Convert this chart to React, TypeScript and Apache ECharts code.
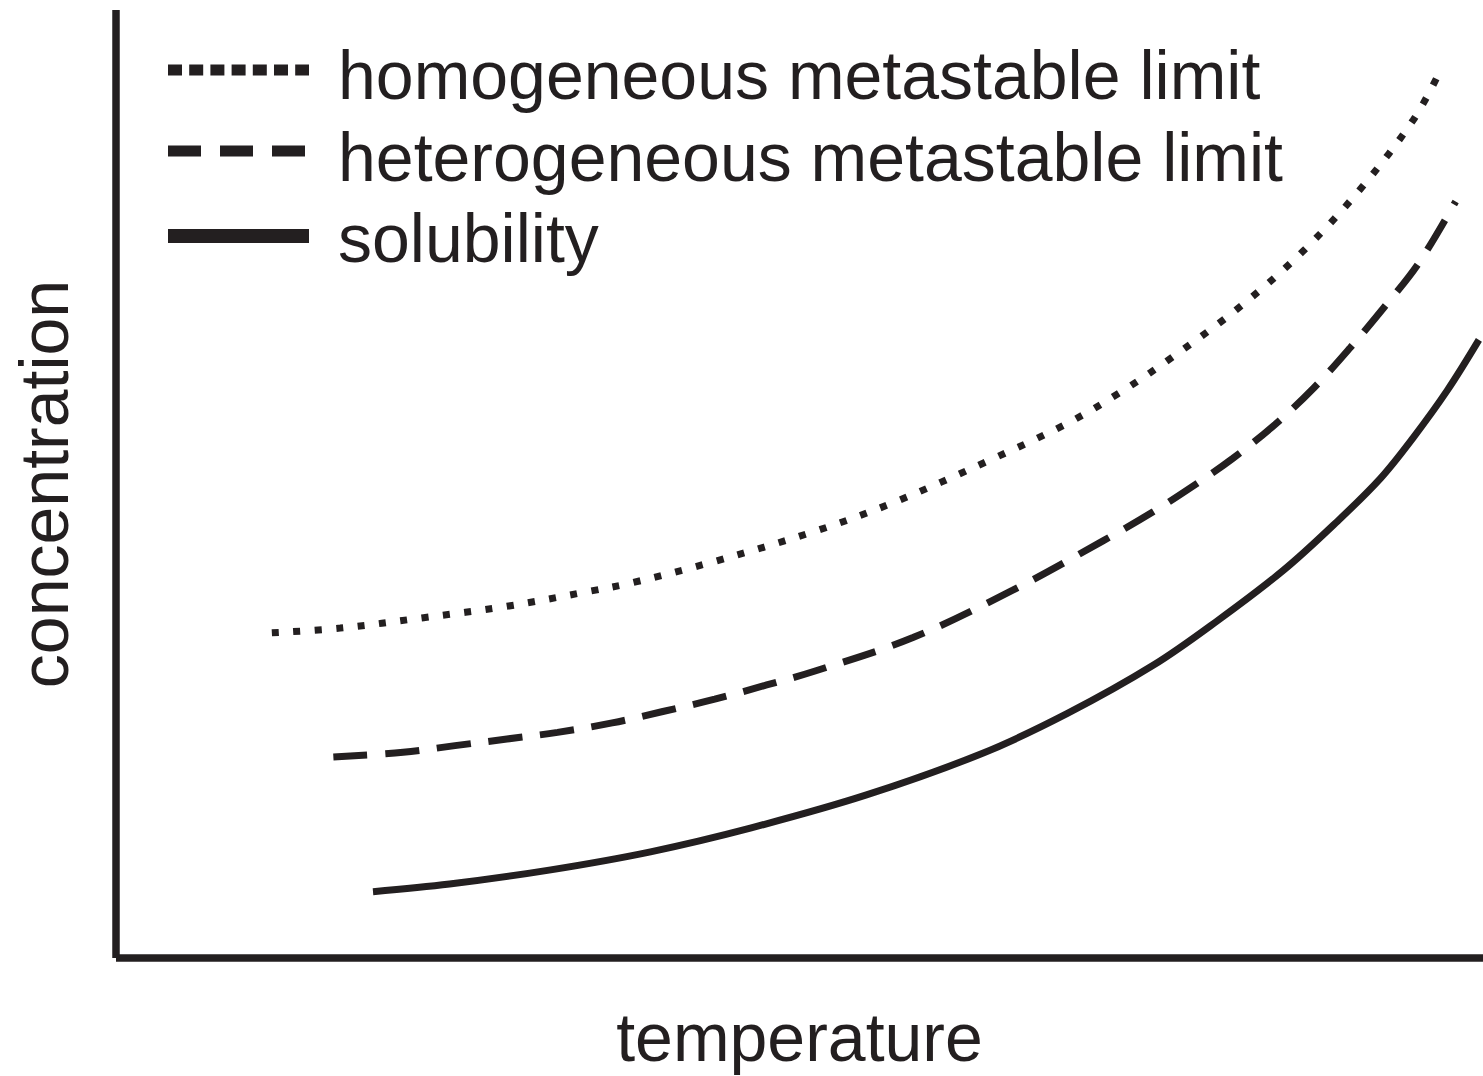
import React, { useEffect, useRef } from "react";
import * as echarts from "echarts";

const INK = "#231f20";
const FONT = "'Liberation Sans', Arial, sans-serif";

const xAxisTitle = "temperature";
const yAxisTitle = "concentration";

const seriesNames = [
  "homogeneous metastable limit",
  "heterogeneous metastable limit",
  "solubility",
];

// temperature (0–100, schematic units)
const homogeneousX = [11.4, 16.4, 22.5, 28.6, 34.7, 37.8, 43.7, 51.1, 56.8, 63.9, 69.6, 73.5, 77.3, 82.4, 87.0, 91.2, 94.9, 96.6];
// concentration (0–100, schematic units)
const homogeneousY = [34.3, 34.8, 35.9, 37.1, 38.7, 39.6, 41.8, 45.0, 48.0, 52.5, 56.4, 59.7, 63.4, 68.9, 74.8, 81.4, 88.4, 92.8];

const heterogeneousX = [15.9, 21.0, 24.8, 28.6, 32.3, 36.3, 40.0, 43.8, 47.6, 51.2, 58.3, 65.6, 72.2, 75.9, 78.7, 81.7, 84.8, 87.6, 90.3, 92.8, 95.3, 98.0];
const heterogeneousY = [21.2, 21.7, 22.4, 23.1, 23.8, 24.8, 26.0, 27.3, 28.8, 30.3, 33.8, 38.8, 44.0, 47.1, 49.7, 52.7, 56.3, 60.1, 64.4, 68.7, 73.3, 79.8];

const solubilityX = [18.8, 24.4, 31.8, 39.1, 46.4, 54.9, 63.4, 69.6, 75.9, 80.5, 85.4, 89.3, 92.5, 94.9, 97.4, 99.7];
const solubilityY = [7.0, 7.8, 9.3, 11.2, 13.7, 17.2, 21.6, 25.8, 30.9, 35.5, 40.9, 46.0, 50.6, 54.9, 59.9, 65.2];

const zip = (xs: number[], ys: number[]) => xs.map((x, i) => [x, ys[i]]);

export default function App() {
  const ref = useRef<HTMLDivElement>(null);

  useEffect(() => {
    if (!ref.current) return;
    const chart = echarts.init(ref.current, null, { renderer: "svg" });

    const legendStyles = [
      { y: 70, lineWidth: 11, lineDash: [14, 7.2] },
      { y: 151, lineWidth: 11, lineDash: [33, 19] },
      { y: 236, lineWidth: 14, lineDash: null as number[] | null },
    ];
    const textMid = [74.5, 156.5, 237.5];

    const legendGraphics: any[] = [];
    seriesNames.forEach((name, i) => {
      const st = legendStyles[i];
      legendGraphics.push({
        type: "line",
        shape: { x1: 168, y1: st.y, x2: 309, y2: st.y },
        style: {
          stroke: INK,
          lineWidth: st.lineWidth,
          lineDash: st.lineDash || undefined,
          lineCap: "butt",
        },
        silent: true,
      });
      legendGraphics.push({
        type: "text",
        x: 338,
        y: textMid[i],
        style: {
          text: name,
          fill: INK,
          font: `68px ${FONT}`,
          fontSize: 68,
          fontFamily: FONT,
          verticalAlign: "middle",
          align: "left",
        },
        silent: true,
      });
    });

    const axisCommon = {
      type: "value" as const,
      min: 0,
      max: 100,
      axisTick: { show: false },
      axisLabel: { show: false },
      splitLine: { show: false },
      axisLine: { show: true, lineStyle: { color: INK, width: 7.5, cap: "butt" } },
      nameLocation: "middle" as const,
      nameTextStyle: { color: INK, fontSize: 68, fontFamily: FONT },
    };

    const lineSeries = (i: number, xs: number[], ys: number[], type: any) => ({
      name: seriesNames[i],
      type: "line",
      data: zip(xs, ys),
      smooth: 0.35,
      showSymbol: false,
      lineStyle: { color: INK, width: 7, type, cap: "butt" },
    });

    chart.setOption({
      animation: false,
      backgroundColor: "#ffffff",
      textStyle: { fontFamily: FONT },
      grid: { left: 116, right: 0, top: 10, bottom: 118, containLabel: false },
      xAxis: { ...axisCommon, name: xAxisTitle, nameGap: 45 },
      yAxis: { ...axisCommon, name: yAxisTitle, nameGap: 38 },
      graphic: legendGraphics,
      series: [
        lineSeries(0, homogeneousX, homogeneousY, [7, 14.5]),
        lineSeries(1, heterogeneousX, heterogeneousY, [34, 18]),
        lineSeries(2, solubilityX, solubilityY, "solid"),
      ],
    });

    return () => chart.dispose();
  }, []);

  return (
    <div
      ref={ref}
      style={{ position: "absolute", left: 0, top: 0, width: 1483, height: 1076, background: "#fff" }}
    />
  );
}
